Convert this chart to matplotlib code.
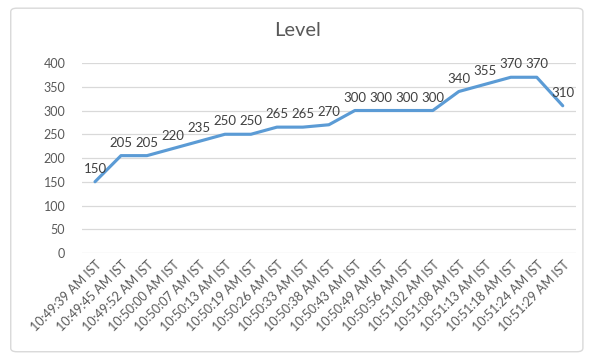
import matplotlib.pyplot as plt
from matplotlib.patches import FancyBboxPatch

times = ['10:49:39', '10:49:45', '10:49:52', '10:50:00', '10:50:07', '10:50:13',
         '10:50:19', '10:50:26', '10:50:33', '10:50:38', '10:50:43', '10:50:49',
         '10:50:56', '10:51:02', '10:51:08', '10:51:13', '10:51:18', '10:51:24',
         '10:51:29']
x_labels = [t + ' AM IST' for t in times]
level = [150, 205, 205, 220, 235, 250, 250, 265, 265, 270, 300, 300, 300, 300,
         340, 355, 370, 370, 310]
y_ticks = [0, 50, 100, 150, 200, 250, 300, 350, 400]

plt.rcParams['font.family'] = ['Lato', 'DejaVu Sans']
grey = '#595959'

fig = plt.figure(figsize=(5.96, 3.56), dpi=100)
border = FancyBboxPatch((0.018, 0.012), 0.96, 0.965, boxstyle='round,pad=0,rounding_size=0.01',
                        transform=fig.transFigure, facecolor='white', edgecolor='#D9D9D9',
                        linewidth=1, zorder=-10)
fig.patches.append(border)

ax = fig.add_axes([0.1376, 0.2893, 0.8284, 0.5337])
ax.set_zorder(5)
ax.set_facecolor('none')
xs = list(range(len(level)))
ax.plot(xs, level, color='#5B9BD5', linewidth=2.25, solid_capstyle='round', zorder=3)
for i, v in enumerate(level):
    ax.annotate(str(v), (i, v), xytext=(0, 5), textcoords='offset points',
                ha='center', va='bottom', fontsize=9.5, color='#404040')

ax.set_xlim(-0.5, len(level) - 0.5)
ax.set_ylim(0, 400)
ax.set_yticks(y_ticks)
ax.set_xticks(xs)
ax.set_xticklabels(x_labels, rotation=45, ha='right', rotation_mode='anchor')
ax.tick_params(axis='both', length=0, colors=grey, labelsize=9)
ax.tick_params(axis='y', pad=12)
ax.tick_params(axis='x', pad=4)
ax.grid(axis='y', color='#D9D9D9', linewidth=0.9)
ax.set_axisbelow(True)
for s in ax.spines.values():
    s.set_visible(False)

fig.text(0.5, 0.915, 'Level', ha='center', va='center', fontsize=14.5, color=grey)

plt.savefig('out.png', dpi=100)
